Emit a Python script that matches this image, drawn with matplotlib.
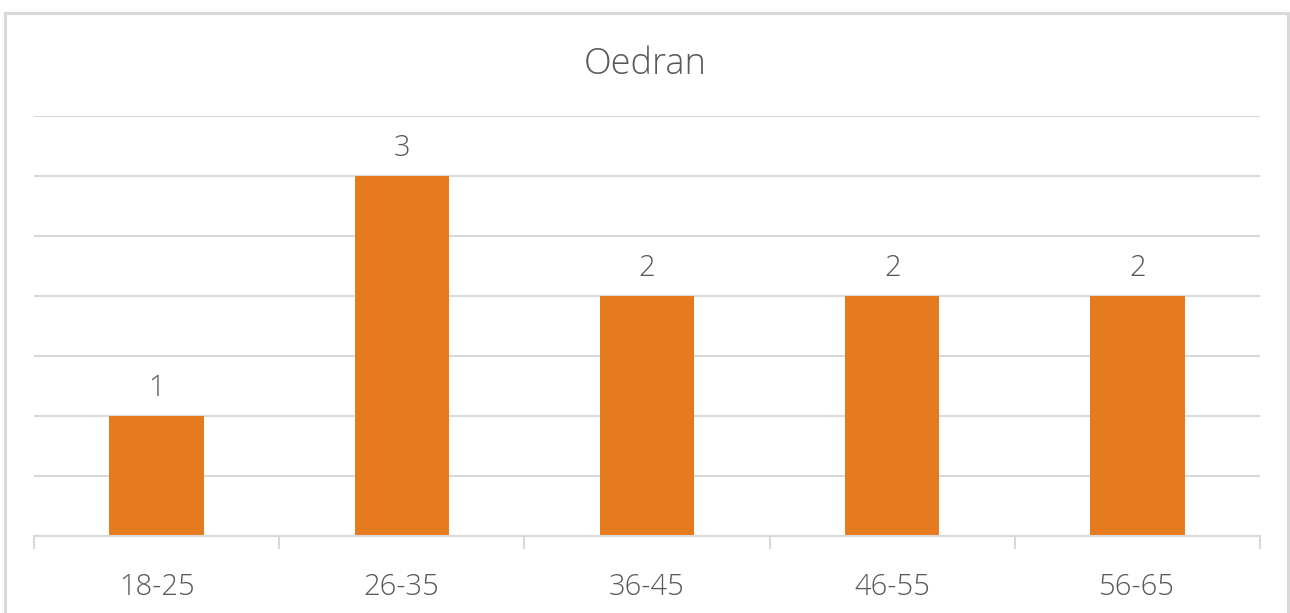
import matplotlib
matplotlib.use("Agg")
import matplotlib.pyplot as plt
from matplotlib.patches import Rectangle

categories = ["18-25", "26-35", "36-45", "46-55", "56-65"]
values = [1, 3, 2, 2, 2]
title = "Oedran"

plt.rcParams['font.family'] = ['Open Sans', 'DejaVu Sans']
text_color = "#595959"
grid_color = "#D9D9D9"
bar_color = "#E67A1F"

W, H = 1290, 613
fig = plt.figure(figsize=(W/100, H/100), dpi=100)
ax = fig.add_axes([34/W, 1-536/H, (1260-34)/W, (536-116)/H])

x = list(range(len(categories)))
bars = ax.bar(x, values, width=0.385, color=bar_color, zorder=3)
ax.set_xlim(-0.5, len(categories)-0.5)
ax.set_ylim(0, 3.5)
ax.set_yticks([i*0.5 for i in range(8)])
ax.yaxis.grid(True, color=grid_color, linewidth=1.5, zorder=0)
ax.tick_params(axis='y', left=False, labelleft=False)
for s in ['top', 'right', 'left']:
    ax.spines[s].set_visible(False)
ax.spines['bottom'].set_color(grid_color)
ax.spines['bottom'].set_linewidth(1.5)
ax.spines['bottom'].set_zorder(4)

ax.set_xticks(x)
ax.set_xticklabels(categories, fontsize=21, color=text_color, fontweight='light')
ax.tick_params(axis='x', length=0, pad=26)
# minor ticks between categories
ax.set_xticks([i-0.5 for i in range(len(categories)+1)], minor=True)
ax.tick_params(axis='x', which='minor', length=9, width=1.5, color=grid_color)

for xi, v in zip(x, values):
    ax.annotate(str(v), (xi, v), xytext=(0, 9), textcoords='offset points',
                ha='center', va='bottom', fontsize=21, color=text_color, fontweight='light')

fig.text(0.5, 1-64/H, title, ha='center', va='center', fontsize=26, color=text_color, fontweight='light')

fig.patches.append(Rectangle((4.5/W, -0.05), (1288-4.5)/W, 1-12.5/H+0.05, transform=fig.transFigure,
                             fill=False, edgecolor=grid_color, linewidth=2.2))

fig.savefig("out.png", dpi=100, facecolor='white')
